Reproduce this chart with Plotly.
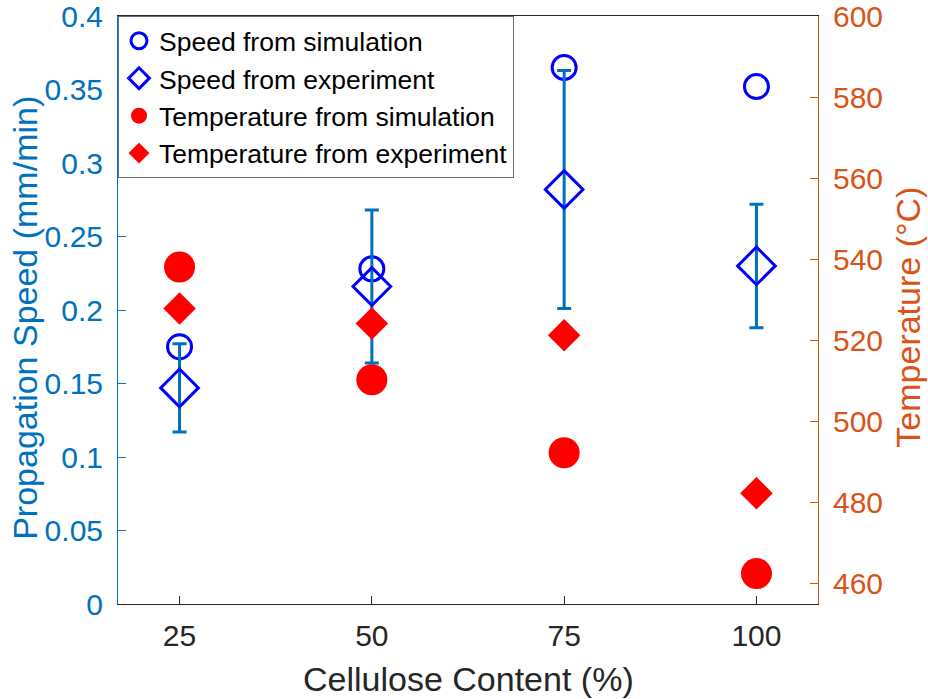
import plotly.graph_objects as go

# ---- data ----
cellulose = [25, 50, 75, 100]
speed_sim = [0.175, 0.228, 0.365, 0.352]
speed_exp = [0.147, 0.216, 0.282, 0.230]
speed_exp_err = [0.030, 0.052, 0.081, 0.042]
temp_sim = [538.1, 510.3, 492.3, 462.5]
temp_exp = [527.9, 524.2, 521.3, 482.3]

x_ticks = [25, 50, 75, 100]
y_ticks = [0, 0.05, 0.1, 0.15, 0.2, 0.25, 0.3, 0.35, 0.4]
y_ticktext = ["0", "0.05", "0.1", "0.15", "0.2", "0.25", "0.3", "0.35", "0.4"]
y2_ticks = [460, 480, 500, 520, 540, 560, 580, 600]

FONT = "Liberation Sans, Arial, Helvetica, sans-serif"
BLUE_AX = "#0072BD"
ORANGE_AX = "#D95319"
DARK = "#262626"

fig = go.Figure()

fig.add_trace(go.Scatter(
    x=cellulose, y=speed_sim, mode="markers", name="Speed from simulation",
    marker=dict(symbol="circle-open", size=24, color="#0000FF",
                line=dict(width=3, color="#0000FF")),
    yaxis="y",
))
fig.add_trace(go.Scatter(
    x=cellulose, y=speed_exp, mode="markers", name="Speed from experiment",
    marker=dict(symbol="diamond-open", size=29, color="#0000FF",
                line=dict(width=3, color="#0000FF")),
    error_y=dict(type="data", array=speed_exp_err, visible=True,
                 color=BLUE_AX, thickness=3, width=7),
    yaxis="y",
))
fig.add_trace(go.Scatter(
    x=cellulose, y=temp_sim, mode="markers", name="Temperature from simulation",
    marker=dict(symbol="circle", size=31, color="#FF0000",
                line=dict(width=0)),
    yaxis="y2",
))
fig.add_trace(go.Scatter(
    x=cellulose, y=temp_exp, mode="markers", name="Temperature from experiment",
    marker=dict(symbol="diamond", size=25, color="#FF0000",
                line=dict(width=0)),
    yaxis="y2",
))

fig.update_layout(
    template="none",
    width=928, height=699,
    margin=dict(l=118, r=110, t=16, b=95, pad=0, autoexpand=False),
    paper_bgcolor="white", plot_bgcolor="white",
    font=dict(family=FONT, color=DARK),
    showlegend=True,
    legend=dict(
        x=0, y=1, xanchor="left", yanchor="top",
        bgcolor="white", bordercolor="#6e6e6e", borderwidth=1,
        font=dict(family=FONT, size=26.5, color="black"),
        itemwidth=30, tracegroupgap=0,
    ),
    xaxis=dict(
        range=[17, 108], tickmode="array", tickvals=x_ticks,
        ticks="inside", ticklen=8, tickwidth=1, tickcolor=DARK,
        tickfont=dict(family=FONT, size=30, color=DARK),
        showgrid=False, zeroline=False, automargin=False,
        showline=True, linecolor=DARK, linewidth=1, mirror=True,
        ticklabelstandoff=5, ticklabeloverflow="allow",
    ),
    yaxis=dict(
        range=[0, 0.4], tickmode="array", tickvals=y_ticks, ticktext=y_ticktext,
        ticks="inside", ticklen=8, tickwidth=1, tickcolor=BLUE_AX,
        tickfont=dict(family=FONT, size=30, color=BLUE_AX),
        showgrid=False, zeroline=False, automargin=False,
        showline=True, linecolor=BLUE_AX, linewidth=1,
        ticklabelstandoff=8, ticklabeloverflow="allow",
    ),
    yaxis2=dict(
        range=[455, 600], tickmode="array", tickvals=y2_ticks,
        overlaying="y", side="right", anchor="x",
        ticks="inside", ticklen=8, tickwidth=1, tickcolor=ORANGE_AX,
        tickfont=dict(family=FONT, size=30, color=ORANGE_AX),
        showgrid=False, zeroline=False, automargin=False,
        showline=True, linecolor=ORANGE_AX, linewidth=1,
        ticklabelstandoff=8, ticklabeloverflow="allow",
    ),
    annotations=[
        dict(text="Cellulose Content (%)", xref="paper", yref="paper",
             x=0.5, y=-0.128, xanchor="center", yanchor="middle",
             showarrow=False, font=dict(family=FONT, size=34, color=DARK)),
        dict(text="Propagation Speed (mm/min)", xref="paper", yref="paper",
             x=-0.134, y=0.487, xanchor="center", yanchor="middle",
             textangle=-90, showarrow=False,
             font=dict(family=FONT, size=34, color=BLUE_AX)),
        dict(text="Temperature (°C)", xref="paper", yref="paper",
             x=1.1286, y=0.487, xanchor="center", yanchor="middle",
             textangle=-90, showarrow=False,
             font=dict(family=FONT, size=34, color=ORANGE_AX)),
    ],
)

fig.write_html("out.html")
